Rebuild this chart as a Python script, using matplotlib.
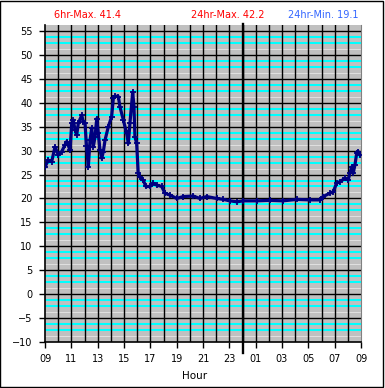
import numpy as np
import matplotlib.pyplot as plt

# hours since 09:00 and temperature readings
hours = [0.00, 0.25, 0.51, 0.76, 1.01, 1.27, 1.52, 1.65, 1.90, 2.03,
         2.15, 2.28, 2.41, 2.53, 2.79, 2.91, 3.04, 3.15, 3.29, 3.42,
         3.55, 3.67, 3.80, 3.93, 4.05, 4.18, 4.31, 4.43, 4.56, 4.81,
         5.06, 5.19, 5.32, 5.57, 5.69, 5.95, 6.20, 6.33, 6.45, 6.66,
         6.76, 6.83, 6.96, 7.08, 7.21, 7.46, 7.67, 7.97, 8.22, 8.48,
         8.86, 9.11, 9.49, 10.00, 10.50, 11.26, 11.77, 12.28, 13.04, 13.54,
         14.05, 14.56, 15.06, 16.07, 17.08, 18.07, 19.11, 20.12, 20.88, 21.13,
         21.64, 21.89, 22.15, 22.40, 22.78, 23.03, 23.16, 23.29, 23.41, 23.54,
         23.67, 23.79, 23.92]
temps = [26.6, 28.0, 27.7, 30.8, 29.1, 29.8, 31.2, 31.9, 30.1, 35.7,
         36.4, 34.3, 33.3, 35.7, 37.4, 36.0, 35.7, 31.0, 26.6, 32.2,
         34.7, 30.8, 32.9, 36.7, 33.6, 30.1, 28.4, 29.8, 32.2, 35.0,
         37.1, 40.9, 41.4, 41.3, 39.2, 36.4, 33.6, 31.5, 35.7, 42.2,
         39.2, 32.9, 31.5, 25.3, 24.5, 23.8, 22.5, 22.5, 23.2, 22.8,
         22.5, 21.1, 20.7, 20.0, 20.4, 20.5, 20.0, 20.4, 20.0, 19.8,
         19.5, 19.3, 19.5, 19.5, 19.6, 19.5, 19.8, 19.7, 19.7, 20.4,
         21.1, 21.4, 23.2, 23.5, 24.2, 23.9, 25.3, 26.6, 25.3, 27.0,
         29.4, 29.8, 29.1]

tick_hours = np.arange(0, 25, 2)
tick_labels = ['09', '11', '13', '15', '17', '19', '21', '23',
               '01', '03', '05', '07', '09']

fig = plt.figure(figsize=(3.85, 3.88), dpi=100)
ax = fig.add_axes([45/385, 46/388, 316/385, 317/388])
ax.set_facecolor('#c0c0c0')
ax.set_xlim(0, 24)
ax.set_ylim(-10, 56.25)

# minor horizontal lines
for base in range(-10, 55, 5):
    ax.axhline(base + 1.25, color='#e0e0e0', lw=0.7, zorder=1, snap=True)
    ax.axhline(base + 2.5, color='#00ffff', lw=1.45, zorder=1, snap=True)
    ax.axhline(base + 3.75, color='#00ffff', lw=1.45, zorder=1, snap=True)
for y in range(-5, 60, 5):
    ax.axhline(y, color='k', lw=1.0, zorder=2)
for h in range(1, 24):
    ax.axvline(h, color='k', lw=1.0, zorder=2)

# midnight marker
ax.plot([15, 15], [-12.3, 56.45], color='k', lw=1.7, clip_on=False, zorder=3)

ax.plot(hours, temps, color='#000080', lw=2.3, marker='+', ms=4.5, mew=1.3, zorder=4)

ax.set_yticks(range(-10, 60, 5))
ax.set_xticks(tick_hours)
ax.set_xticklabels(tick_labels)
ax.tick_params(direction='out', length=4, width=1, pad=5, labelsize=7)

ax.spines['top'].set_visible(False)
ax.spines['right'].set_color('#808080')
ax.spines['left'].set_linewidth(1.2)
ax.spines['bottom'].set_linewidth(1.2)

fig.text(54/385, 1 - 15/388, '6hr-Max. 41.4', color='red', fontsize=7, ha='left', va='center')
fig.text(228/385, 1 - 15/388, '24hr-Max. 42.2', color='red', fontsize=7, ha='center', va='center')
fig.text(323/385, 1 - 15/388, '24hr-Min. 19.1', color='#3366ff', fontsize=7, ha='center', va='center')
fig.text(195/385, 1 - 376/388, 'Hour', fontsize=7.5, ha='center', va='center')

fig.add_artist(plt.Rectangle((0.001, 0.002), 0.994, 0.995, transform=fig.transFigure,
                             fill=False, ec='k', lw=1))

fig.savefig('out.png', dpi=100)
